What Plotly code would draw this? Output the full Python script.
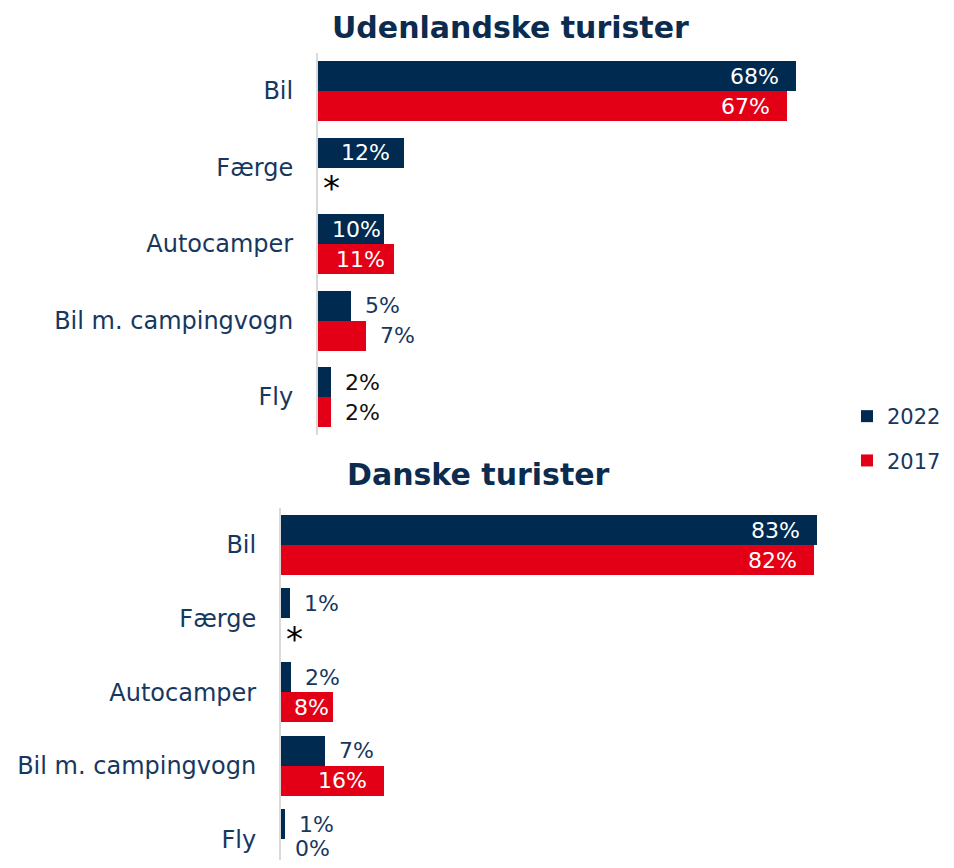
import plotly.graph_objects as go

# ---------------- data ----------------
categories = ["Bil", "Færge", "Autocamper", "Bil m. campingvogn", "Fly"]

udl_2022 = [68.0, 12.2, 9.4, 4.7, 1.8]
udl_2017 = [66.7, None, 10.8, 6.8, 1.8]
udl_2022_labels = ["68%", "12%", "10%", "5%", "2%"]
udl_2017_labels = ["67%", "*", "11%", "7%", "2%"]

dk_2022 = [83.0, 1.4, 1.6, 6.8, 0.6]
dk_2017 = [82.5, None, 8.0, 16.0, 0.0]
dk_2022_labels = ["83%", "1%", "2%", "7%", "1%"]
dk_2017_labels = ["82%", "*", "8%", "16%", "0%"]

series_names = ["2022", "2017"]
panel_titles = ["Udenlandske turister", "Danske turister"]

# ---------------- style ----------------
PAGE_MARGIN = 8                 # default body margin of the page
W, H = 954 - 2 * PAGE_MARGIN, 868 - 2 * PAGE_MARGIN
NAVY = "#002A50"
RED = "#E30016"
TEXT = "#17375E"
TITLE = "#0B2B4F"
FONT = "DejaVu Sans"
LABEL_SIZE = 22


def fx(px):
    return (px - PAGE_MARGIN) / W


def fy(py):
    return 1 - (py - PAGE_MARGIN) / H


fig = go.Figure()

panels = [
    dict(xa="x", ya="y", v22=udl_2022, v17=udl_2017, l22=udl_2022_labels, l17=udl_2017_labels,
         pxpu=7.03, left=318, top=52.75, bottom=435.25, outcol={"Fly": "#111111"}),
    dict(xa="x2", ya="y2", v22=dk_2022, v17=dk_2017, l22=dk_2022_labels, l17=dk_2017_labels,
         pxpu=6.46, left=281, top=508.2, bottom=876.3, outcol={}),
]

right_px = 860
page_bottom = PAGE_MARGIN + H
annotations = []
layout_axes = {}

for i, p in enumerate(panels):
    showleg = i == 0
    step = (p["bottom"] - p["top"]) / len(categories)
    bw = 30.0 / step  # bar width in category units
    for vals, name, color, off in [(p["v22"], series_names[0], NAVY, -bw), (p["v17"], series_names[1], RED, 0.0)]:
        fig.add_trace(go.Bar(
            y=categories, x=vals, orientation="h", name=name,
            marker=dict(color=color, line=dict(width=0)),
            width=bw, offset=off, xaxis=p["xa"], yaxis=p["ya"],
            showlegend=showleg, legendgroup=name, hoverinfo="skip",
        ))
    # labels
    for vals, labs, ysh in [(p["v22"], p["l22"], 15), (p["v17"], p["l17"], -15)]:
        for k, (cat, v, lab) in enumerate(zip(categories, vals, labs)):
            # keep labels inside the picture
            center_px = p["top"] + (k + 0.5) * step - ysh
            room = page_bottom - LABEL_SIZE / 2 - 1
            ysh_eff = ysh + max(0.0, center_px - room)
            if v is None:
                annotations.append(dict(
                    x=0, y=cat, xref=p["xa"], yref=p["ya"], text=lab, showarrow=False,
                    xanchor="left", yanchor="middle", xshift=3, yshift=ysh - 5,
                    font=dict(family=FONT, size=34, color="#000000")))
                continue
            bar_px = v * p["pxpu"]
            if bar_px >= 90:
                annotations.append(dict(
                    x=v, y=cat, xref=p["xa"], yref=p["ya"], text=lab, showarrow=False,
                    xanchor="right", yanchor="middle", xshift=-15, yshift=ysh_eff,
                    font=dict(family=FONT, size=LABEL_SIZE, color="#FFFFFF")))
            elif bar_px >= 50:
                annotations.append(dict(
                    x=v / 2, y=cat, xref=p["xa"], yref=p["ya"], text=lab, showarrow=False,
                    xanchor="center", yanchor="middle", xshift=5, yshift=ysh_eff,
                    font=dict(family=FONT, size=LABEL_SIZE, color="#FFFFFF")))
            else:
                annotations.append(dict(
                    x=v, y=cat, xref=p["xa"], yref=p["ya"], text=lab, showarrow=False,
                    xanchor="left", yanchor="middle", xshift=12, yshift=ysh_eff,
                    font=dict(family=FONT, size=LABEL_SIZE, color=p["outcol"].get(cat, TEXT))))

    plot_bottom_px = min(p["bottom"], page_bottom)
    ydom_bottom = fy(plot_bottom_px)
    ydom_top = fy(p["top"])
    rng_bottom = -0.5 + (plot_bottom_px - p["top"]) / step
    xmax = (right_px - p["left"]) / p["pxpu"]
    suffix = "" if i == 0 else "2"
    layout_axes["xaxis" + suffix] = dict(
        domain=[fx(p["left"]), fx(right_px)], range=[0, xmax], anchor=p["ya"],
        showticklabels=False, showgrid=False, zeroline=False, showline=False, fixedrange=True)
    layout_axes["yaxis" + suffix] = dict(
        domain=[max(0.0, ydom_bottom), ydom_top], anchor=p["xa"], type="category",
        categoryorder="array", categoryarray=categories, range=[rng_bottom, -0.5],
        showgrid=False, zeroline=False, showline=True, linecolor="#D9D9D9", linewidth=2,
        ticks="", ticklabelstandoff=18,
        tickfont=dict(family=FONT, size=24, color=TEXT), fixedrange=True)

# panel titles
annotations.append(dict(x=fx(510), y=fy(27), xref="paper", yref="paper", text="<b>" + panel_titles[0] + "</b>",
                        showarrow=False, xanchor="center", yanchor="middle",
                        font=dict(family=FONT, size=30, color=TITLE)))
annotations.append(dict(x=fx(478), y=fy(474), xref="paper", yref="paper", text="<b>" + panel_titles[1] + "</b>",
                        showarrow=False, xanchor="center", yanchor="middle",
                        font=dict(family=FONT, size=30, color=TITLE)))

fig.update_layout(
    width=W, height=H, margin=dict(l=0, r=0, t=0, b=0, autoexpand=False),
    paper_bgcolor="white", plot_bgcolor="white",
    barmode="overlay", bargap=0,
    showlegend=True,
    legend=dict(x=fx(847), y=fy(396), xanchor="left", yanchor="top",
                font=dict(family=FONT, size=21, color=TEXT), traceorder="grouped",
                tracegroupgap=14, bgcolor="rgba(0,0,0,0)"),
    annotations=annotations,
    **layout_axes,
)

fig.write_html("out.html")
